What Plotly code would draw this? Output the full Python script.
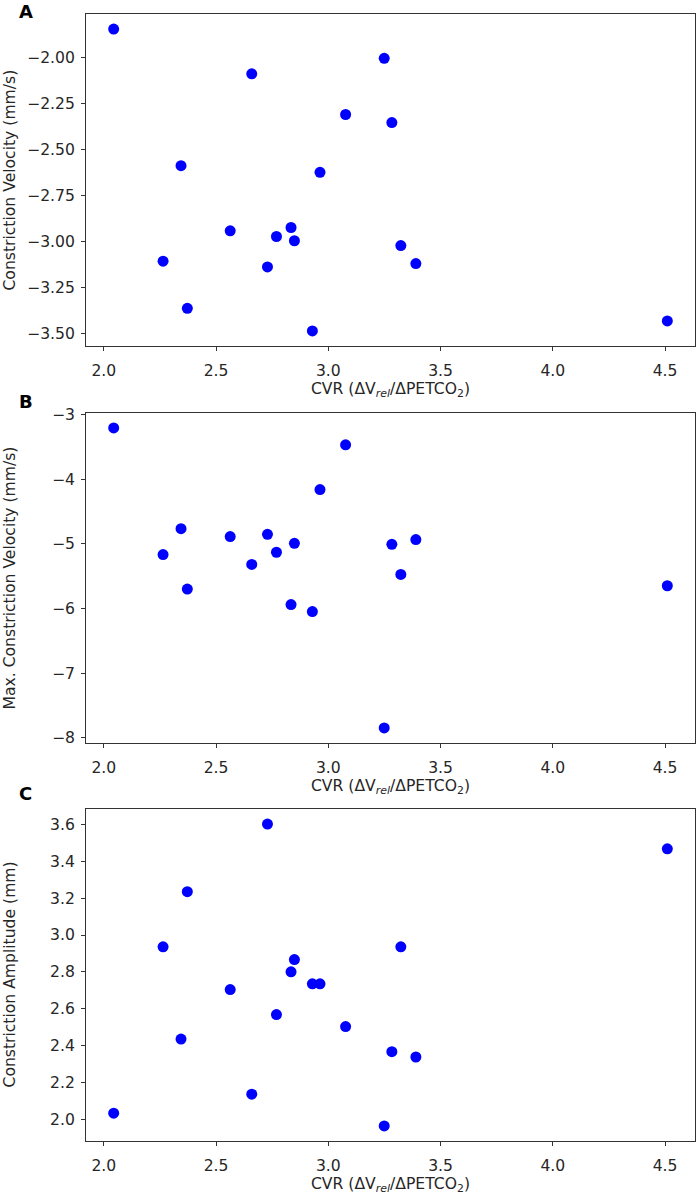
import plotly.graph_objects as go

# CVR values shared by the three panels
cvr = [2.044, 2.264, 2.344, 2.372, 2.563, 2.659, 2.729, 2.769, 2.834,
       2.849, 2.929, 2.963, 3.077, 3.249, 3.283, 3.323, 3.390, 4.510]

constriction_velocity = [-1.844, -3.105, -2.586, -3.361, -2.940, -2.087, -3.136, -2.971, -2.922,
                         -2.994, -3.484, -2.622, -2.308, -2.003, -2.352, -3.020, -3.118, -3.430]

max_constriction_velocity = [-3.205, -5.163, -4.763, -5.697, -4.886, -5.317, -4.851, -5.128, -5.938,
                             -4.989, -6.046, -4.158, -3.466, -7.846, -5.005, -5.471, -4.932, -5.646]

constriction_amplitude = [2.033, 2.936, 2.435, 3.235, 2.704, 2.136, 3.602, 2.568, 2.800,
                          2.867, 2.735, 2.735, 2.503, 1.964, 2.367, 2.936, 2.338, 3.468]

panel_labels = ["A", "B", "C"]
y_titles = ["Constriction Velocity (mm/s)",
            "Max. Constriction Velocity (mm/s)",
            "Constriction Amplitude (mm)"]
x_title = "CVR (ΔV<sub><i>rel</i></sub>/ΔPETCO<sub>2</sub>)"

FONT = "DejaVu Sans"
FS = 15.6
TXT = "#262626"
LINE = "#333333"


def pad_range(vals, frac=0.05):
    # same 5% padding matplotlib uses
    lo, hi = min(vals), max(vals)
    span = hi - lo
    return [lo - frac * span, hi + frac * span]


panels = [
    (constriction_velocity, 0.25, ".2f"),
    (max_constriction_velocity, 1, "d"),
    (constriction_amplitude, 0.2, ".1f"),
]
domains = [[0.7054, 1.0], [0.3532, 0.646], [0.0, 0.2946]]
label_y = [1.0022, 0.6566, 0.3079]

fig = go.Figure()

for i, (yvals, dtick, fmt) in enumerate(panels):
    n = "" if i == 0 else str(i + 1)
    fig.add_trace(go.Scatter(
        x=cvr, y=yvals, mode="markers",
        marker=dict(color="#0000ff", size=11, line=dict(width=0)),
        xaxis="x" + n, yaxis="y" + n, showlegend=False,
    ))
    axis_common = dict(
        showline=True, mirror=True, linecolor=LINE, linewidth=1,
        ticks="outside", ticklen=4, tickwidth=1, tickcolor=LINE,
        showgrid=False, zeroline=False,
        tickfont=dict(family=FONT, size=FS, color=TXT),
    )
    fig.update_layout(**{
        "xaxis" + n: dict(
            anchor="y" + n, domain=[0, 1], range=pad_range(cvr),
            dtick=0.5, tick0=0, tickformat=".1f", ticklabelstandoff=6,
            title=dict(text=x_title, standoff=1,
                       font=dict(family=FONT, size=FS, color=TXT)),
            **axis_common),
        "yaxis" + n: dict(
            anchor="x" + n, domain=domains[i], range=pad_range(yvals),
            dtick=dtick, tick0=0, tickformat=fmt, ticklabelstandoff=3,
            **axis_common),
    })
    # y-axis title placed at a fixed distance from the figure edge
    fig.add_annotation(
        text=y_titles[i], textangle=-90, showarrow=False,
        xref="paper", yref="paper", x=-0.1256, xanchor="center",
        y=sum(domains[i]) / 2, yanchor="middle",
        font=dict(family=FONT, size=FS, color=TXT),
    )
    fig.add_annotation(
        text="<b>" + panel_labels[i] + "</b>", showarrow=False,
        xref="paper", yref="paper", x=-0.1133, xanchor="left",
        y=label_y[i], yanchor="middle",
        font=dict(family=FONT, size=18, color="black"),
    )

fig.update_layout(
    width=699, height=1195,
    margin=dict(l=86, r=4, t=14, b=54, autoexpand=False),
    paper_bgcolor="white", plot_bgcolor="white",
    font=dict(family=FONT, color=TXT),
)

# drop the browser's default 8px body margin so the figure sits at the page corner
fig.write_html("out.html", config={"displayModeBar": False},
               post_script="document.body.style.margin = '0';")
